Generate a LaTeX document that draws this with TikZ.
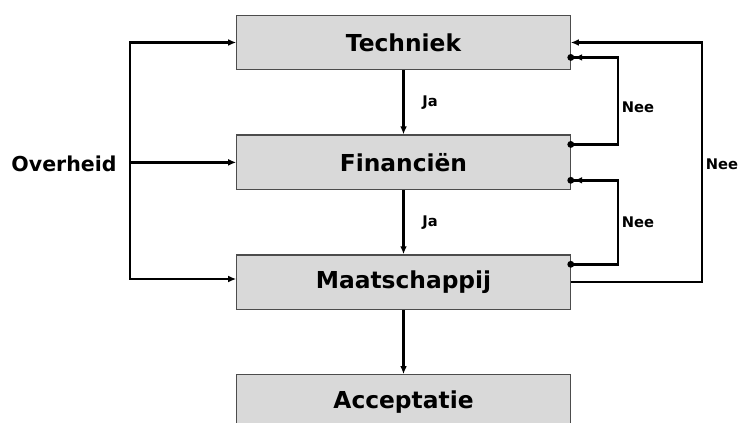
\documentclass[tikz,border=0pt]{standalone}
\usepackage{fontspec}
\setmainfont{DejaVu Sans}
\usepackage{tikz}
\usetikzlibrary{arrows.meta,positioning,calc}

\begin{document}
\begin{tikzpicture}[x=0.75pt,y=-0.75pt,node distance=48pt,>={Latex[length=6pt,width=5pt]},line width=1.8pt]
\tikzstyle{box}=[rectangle,draw=black!70,line width=0.9pt,fill=black!15,minimum width=250pt,minimum height=41pt,font=\bfseries\fontsize{17.5}{20}\selectfont]
\tikzstyle{lbl}=[font=\bfseries\fontsize{11}{13}\selectfont]
\tikzstyle{dotloop}=[{Circle[length=5pt]}-{Latex[length=6pt,width=5pt] Circle[length=5pt]},shorten <=-2.5pt,shorten >=-2.5pt]
\useasboundingbox (0,0) rectangle (741,422);
\node[box] (tech) at (403.5,42.5) {Techniek};
\node[box,below=of tech] (fin) {Financiën};
\node[box,below=of fin] (maat) {Maatschappij};
\node[box,below=of maat] (acc) {Acceptatie};
% Ja
\draw[->] (tech) -- (fin) node[lbl,midway,right=10pt] {Ja};
\draw[->] (fin) -- (maat) node[lbl,midway,right=10pt] {Ja};
\draw[->] (maat) -- (acc);
% Overheid
\node[font=\bfseries\fontsize{15.4}{18}\selectfont] (ovh) at (64,164) {Overheid};
\coordinate (lt) at (130,42.5);
\coordinate (lb) at (130,279);
\draw[->] (lb) -- (lt) -- (tech.west);
\draw[->] (lt |- fin.west) -- (fin.west);
\draw[->,line cap=rect] (lb) -- (lb -| maat.west);
% Nee
\draw[dotloop] ($(fin.north east)+(0,10)$) -- ++(47,0) |- ($(tech.south east)+(0,-13)$);
\draw[dotloop] ($(maat.north east)+(0,10)$) -- ++(47,0) |- ($(fin.south east)+(0,-10)$);
\draw[->] (maat.east) -- ++(131,0) |- (tech.east);
\node[lbl] (nee1) at (638,107) {Nee};
\node[lbl] (nee2) at (638,222) {Nee};
\node[lbl] (nee3) at (722,164) {Nee};
\end{tikzpicture}
\end{document}
